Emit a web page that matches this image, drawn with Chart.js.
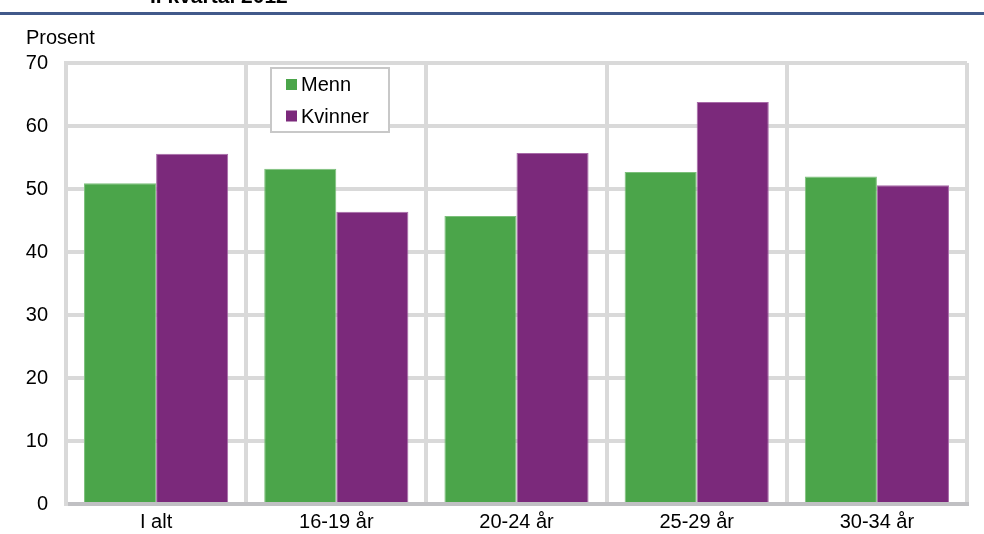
<!DOCTYPE html>
<html>
<head>
<meta charset="utf-8">
<script src="https://cdn.jsdelivr.net/npm/chart.js@4.4.0/dist/chart.umd.min.js"></script>
<style>
  html, body { margin: 0; padding: 0; background: #fff; }
  #wrap { position: relative; width: 984px; height: 534px; }
</style>
</head>
<body>
<div id="wrap"><canvas id="barChart" width="984" height="534"></canvas></div>
<script>
// Data
const categories = ['I alt', '16-19 år', '20-24 år', '25-29 år', '30-34 år'];
const menn = [50.9, 53.2, 45.7, 52.7, 52.0];
const kvinner = [55.6, 46.4, 55.7, 63.8, 50.6];
const yTicks = [0, 10, 20, 30, 40, 50, 60, 70];

const FONT = '"Liberation Sans", Arial, sans-serif';
const GREEN = '#4ba54a';
const PURPLE = '#7b297b';

// Title strip, unit label and legend box drawn on the canvas
const decor = {
  id: 'decor',
  afterDraw(chart) {
    const ctx = chart.ctx;
    ctx.save();
    // cut-off heading + rule
    ctx.fillStyle = '#000';
    ctx.font = 'bold 21px ' + FONT;
    ctx.textBaseline = 'alphabetic';
    ctx.fillText('I. kvartal 2012', 150, 3);
    ctx.fillStyle = '#41598a';
    ctx.fillRect(0, 12, 984, 3);
    // unit
    ctx.fillStyle = '#000';
    ctx.font = '20px ' + FONT;
    ctx.fillText('Prosent', 26, 44);
    // legend
    ctx.fillStyle = '#fff';
    ctx.fillRect(271, 68, 118, 64);
    ctx.strokeStyle = '#c8c8c8';
    ctx.lineWidth = 2;
    ctx.strokeRect(271, 68, 118, 64);
    const rows = [84.5, 116];
    chart.data.datasets.forEach((ds, i) => {
      ctx.fillStyle = ds.backgroundColor;
      ctx.fillRect(286, rows[i] - 5.5, 11, 11);
      ctx.fillStyle = '#000';
      ctx.textBaseline = 'middle';
      ctx.fillText(ds.label, 301, rows[i] + 1);
    });
    ctx.restore();
  }
};

new Chart(document.getElementById('barChart').getContext('2d'), {
  type: 'bar',
  data: {
    labels: categories,
    datasets: [
      { label: 'Menn', data: menn, backgroundColor: GREEN, borderColor: '#7cc07b', borderWidth: 1 },
      { label: 'Kvinner', data: kvinner, backgroundColor: PURPLE, borderColor: '#a86aa8', borderWidth: 1 }
    ]
  },
  options: {
    responsive: false,
    animation: false,
    layout: { padding: { left: 16, right: 17, top: 63, bottom: 0 } },
    datasets: { bar: { categoryPercentage: 0.8, barPercentage: 1.0 } },
    plugins: { legend: { display: false }, tooltip: { enabled: false } },
    scales: {
      x: {
        afterFit: s => { s.height = 29; },
        grid: { color: '#d9d9d9', lineWidth: 4, drawTicks: false, offset: true },
        border: { color: '#c0c0c3', width: 4 },
        ticks: { color: '#000', font: { family: FONT, size: 20 }, padding: 6 }
      },
      y: {
        min: 0, max: 70,
        afterFit: s => { s.width = 50; },
        afterBuildTicks: s => { s.ticks = yTicks.map(v => ({ value: v })); },
        grid: { color: '#d9d9d9', lineWidth: 4, drawTicks: false },
        border: { color: '#d9d9d9', width: 4 },
        ticks: { color: '#000', font: { family: FONT, size: 20 }, padding: 18 }
      }
    }
  },
  plugins: [decor]
});
</script>
</body>
</html>
